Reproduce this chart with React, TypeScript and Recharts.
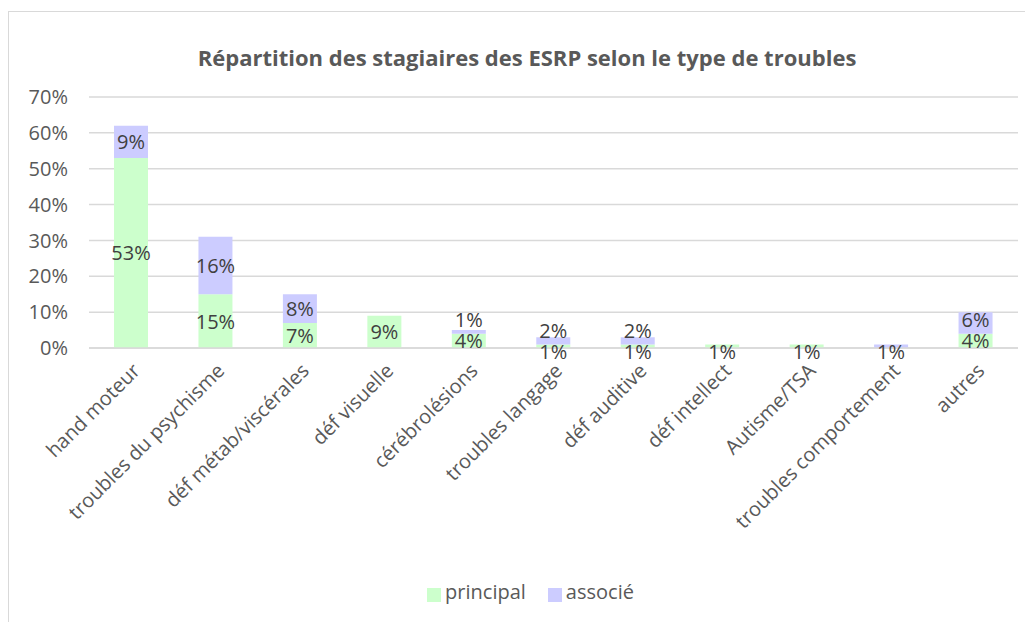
import { BarChart, Bar, XAxis, YAxis, CartesianGrid, Legend, LabelList } from 'recharts';

const categories = [
  'hand moteur',
  'troubles du psychisme',
  'déf métab/viscérales',
  'déf visuelle',
  'cérébrolésions',
  'troubles langage',
  'déf auditive',
  'déf intellect',
  'Autisme/TSA',
  'troubles comportement',
  'autres',
];

const principal = [53, 15, 7, 9, 4, 1, 1, 1, 1, null, 4];
const associe = [9, 16, 8, null, 1, 2, 2, null, null, 1, 6];

const yTicks = [0, 10, 20, 30, 40, 50, 60, 70];

const data = categories.map((name, i) => ({
  name,
  principal: principal[i],
  associe: associe[i],
}));

const FONT = '"Open Sans", sans-serif';
const LABEL_SIZE = 20;

// Excel nudges labels of thin segments; mimic it from the bar's own geometry
function labelCenter(top: number, h: number) {
  if (h < 10) return top + h + 3;
  return top + h / 2;
}

function PrincipalLabel(props: any) {
  const { x, y, width, height, value } = props;
  if (value === null || value === undefined) return null;
  const cy = labelCenter(y, height);
  return (
    <text x={x + width / 2} y={cy} textAnchor="middle" dominantBaseline="central" fill="#404040" fontSize={LABEL_SIZE} fontFamily={FONT}>
      {`${value}%`}
    </text>
  );
}

// value is the whole row here, so the principal segment below is known
function AssocieLabel(props: any) {
  const { x, y, width, height, value } = props;
  const row = value || {};
  const v = row.associe;
  if (v === null || v === undefined) return null;
  const p = row.principal;
  let cy = labelCenter(y, height);
  if (p !== null && p !== undefined && v) {
    const pxPerUnit = height / v;
    const pCenter = labelCenter(y + height, p * pxPerUnit);
    cy = Math.min(y + height / 2, pCenter - 21);
  }
  return (
    <text x={x + width / 2} y={cy} textAnchor="middle" dominantBaseline="central" fill="#404040" fontSize={LABEL_SIZE} fontFamily={FONT}>
      {`${v}%`}
    </text>
  );
}

export default function App() {
  return (
    <div
      style={{
        position: 'relative',
        width: 1025,
        height: 611,
        marginLeft: -1,
        marginTop: 3,
        borderTop: '1px solid #d9d9d9',
        borderLeft: '2px solid #d9d9d9',
        fontFamily: FONT,
        background: '#fff',
      }}
    >
      <div
        style={{
          position: 'absolute',
          top: 30,
          left: 0,
          width: 1036,
          textAlign: 'center',
          fontSize: 22,
          fontWeight: 700,
          color: '#595959',
        }}
      >
        Répartition des stagiaires des ESRP selon le type de troubles
      </div>
      <BarChart
        width={1023}
        height={610}
        data={data}
        margin={{ top: 85, right: 14, left: 0, bottom: 17 }}
      >
        <CartesianGrid vertical={false} stroke="#d9d9d9" strokeWidth={1.5} />
        <XAxis
          dataKey="name"
          interval={0}
          angle={-45}
          textAnchor="end"
          height={230}
          tickLine={false}
          axisLine={{ stroke: '#d9d9d9', strokeWidth: 1.5 }}
          tick={{ fontSize: 20, fill: '#595959', fontFamily: FONT }}
          dy={6}
        />
        <YAxis
          width={80}
          domain={[0, 70]}
          ticks={yTicks}
          tickFormatter={(v) => `${v}%`}
          tickLine={false}
          axisLine={false}
          tick={{ fontSize: 20, fill: '#595959', fontFamily: FONT }}
          tickMargin={15}
        />
        <Legend
          verticalAlign="bottom"
          iconType="square"
          iconSize={14}
          wrapperStyle={{ left: 22 }}
          itemSorter={(item: any) => (item.value === 'principal' ? 0 : 1)}
          formatter={(value) => (
            <span style={{ color: '#595959', fontSize: 20, marginRight: value === 'principal' ? 12 : 0 }}>{value}</span>
          )}
        />
        <Bar dataKey="principal" name="principal" stackId="s" fill="#ccffcc" barSize={34} isAnimationActive={false}>
          <LabelList dataKey="principal" content={PrincipalLabel} />
        </Bar>
        <Bar dataKey="associe" name="associé" stackId="s" fill="#ccccff" barSize={34} isAnimationActive={false}>
          <LabelList dataKey={(d: any) => d} content={AssocieLabel} />
        </Bar>
      </BarChart>
    </div>
  );
}
